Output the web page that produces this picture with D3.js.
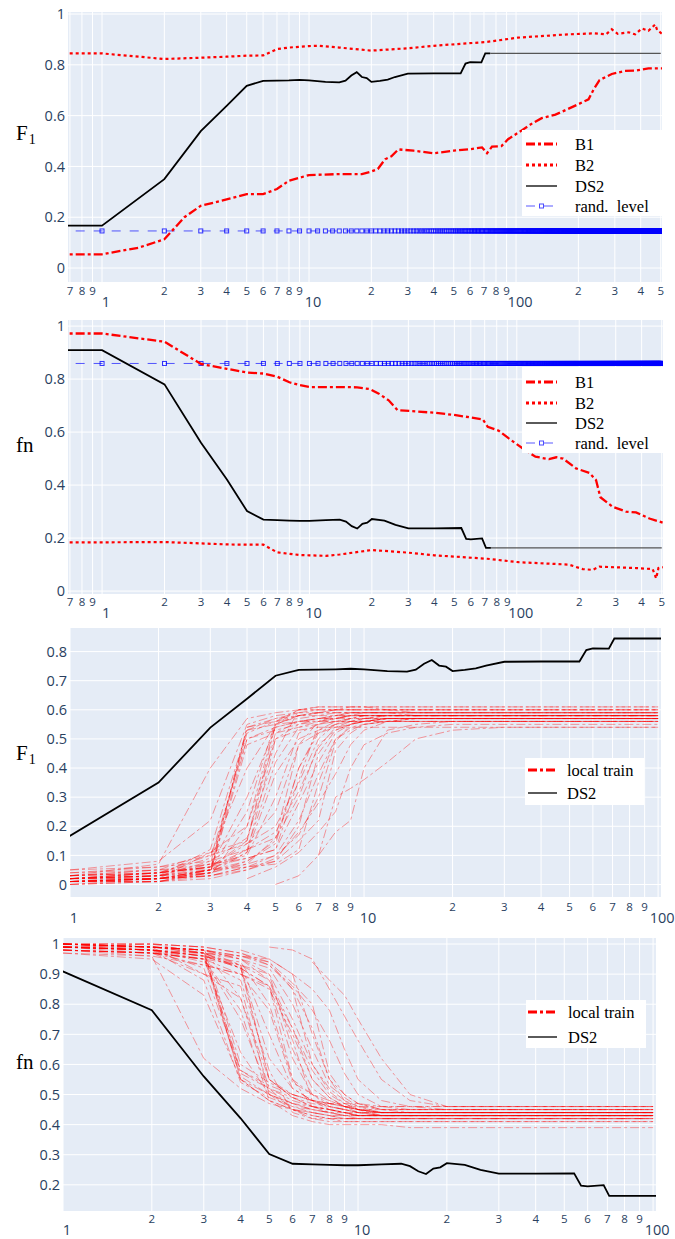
<!DOCTYPE html>
<html lang="en">
<head>
  <meta charset="UTF-8">
  <title>F1 / fn curves</title>
  <script src="https://d3js.org/d3.v7.min.js"></script>
  <style>
    * { margin: 0; padding: 0; box-sizing: border-box; }
    body { background: #fff; }
    svg { display: block; }
  </style>
</head>
<body>
  <svg id="chart" width="675" height="1239"></svg>
  <script>
    // ---- data (x = number of samples, log axis) ----
    const ds2F1 = [[0.5,0.167],[1,0.167],[2,0.35],[3,0.539],[4,0.638],[5,0.717],[6,0.737],[7,0.738],[8,0.739],[9,0.741],[10,0.739],[12,0.733],[14,0.731],[15,0.738],[16,0.758],[17,0.771],[18,0.752],[19,0.748],[20,0.733],[22,0.737],[24,0.742],[26,0.752],[30,0.765],[40,0.766],[54,0.766],[57,0.805],[60,0.811],[68,0.81],[71,0.845],[75,0.845],[500,0.845]]
    const ds2Fn = [[0.5,0.909],[1,0.909],[2,0.78],[3,0.56],[4,0.421],[5,0.302],[6,0.27],[7,0.268],[8,0.266],[9,0.265],[10,0.265],[12,0.268],[14,0.27],[15,0.262],[16,0.245],[17,0.236],[18,0.254],[19,0.258],[20,0.272],[23,0.266],[26,0.25],[30,0.237],[40,0.237],[54,0.238],[57,0.197],[60,0.195],[68,0.199],[71,0.163],[75,0.163],[500,0.163]]
    const b1F1 = [[0.5,0.054],[1,0.054],[1.5,0.08],[2,0.113],[2.5,0.2],[3,0.245],[4,0.27],[5,0.291],[6,0.291],[7,0.311],[8,0.344],[10,0.366],[14,0.37],[18,0.37],[20,0.38],[21.5,0.39],[23.3,0.428],[25,0.44],[27,0.467],[32,0.462],[40,0.452],[50,0.462],[60,0.468],[68.5,0.475],[72.4,0.452],[76.5,0.478],[85,0.48],[91.5,0.507],[107,0.543],[120,0.57],[133,0.59],[155,0.604],[178,0.626],[200,0.645],[224,0.664],[237,0.703],[253,0.74],[290,0.764],[336,0.776],[376,0.777],[436,0.786],[507,0.786]]
    const b2F1 = [[0.5,0.845],[1,0.845],[2,0.823],[3,0.828],[4,0.832],[5,0.836],[6,0.837],[7,0.862],[8,0.868],[10,0.874],[11,0.875],[14,0.868],[20,0.856],[30,0.865],[40,0.875],[72,0.89],[102,0.907],[178,0.92],[240,0.924],[272,0.92],[290,0.94],[310,0.922],[350,0.928],[376,0.92],[405,0.943],[436,0.934],[470,0.959],[480,0.938],[507,0.922]]
    const b1Fn = [[0.5,0.972],[1,0.972],[2,0.941],[3,0.857],[4,0.839],[5,0.825],[6,0.821],[7,0.809],[8,0.788],[9,0.777],[10,0.77],[14,0.77],[17,0.769],[19.6,0.762],[21.5,0.746],[24.1,0.72],[26.6,0.683],[40,0.673],[50.7,0.664],[68.5,0.648],[72.4,0.62],[81.9,0.605],[91.5,0.576],[107,0.538],[123,0.507],[143,0.498],[155,0.505],[167,0.5],[193,0.463],[224,0.446],[241,0.419],[253,0.354],[290,0.318],[336,0.3],[376,0.297],[436,0.274],[507,0.258]]
    const b2Fn = [[0.5,0.184],[1,0.184],[2,0.185],[3,0.18],[4,0.176],[5,0.175],[6,0.175],[7,0.146],[9,0.136],[10,0.135],[12,0.133],[14,0.138],[20,0.155],[30,0.145],[40,0.135],[72,0.122],[102,0.109],[178,0.1],[208,0.083],[232,0.08],[250,0.092],[376,0.087],[452,0.083],[470,0.048],[482,0.087],[507,0.09]]

    // random level: constant, sampled at every integer x
    const randLevelF1 = 0.146
    const randLevelFn = 0.859
    const randX = [0.5, ...d3.range(1, 501)]

    // local train clients, values at xsLocal (null = not yet present)
    const xsLocal = [1, 2, 3, 4, 5, 6, 7, 8, 9, 10, 12, 15, 20, 30, 100]
    const localF1 = [
      [0.02,0.03,0.05,0.54,0.56,0.57,0.58,0.58,0.58,0.59,0.59,0.59,0.59,0.59,0.59],
      [0.01,0.02,0.04,0.53,0.55,0.56,0.56,0.57,0.57,0.57,0.57,0.57,0.57,0.57,0.57],
      [0.03,0.07,0.40,0.57,0.59,0.60,0.60,0.60,0.61,0.61,0.60,0.60,0.60,0.60,0.60],
      [0.05,0.08,0.22,0.55,0.58,0.59,0.59,0.60,0.60,0.60,0.60,0.59,0.59,0.59,0.59],
      [0.02,0.04,0.06,0.15,0.52,0.56,0.57,0.58,0.59,0.59,0.59,0.59,0.59,0.59,0.59],
      [0.01,0.01,0.05,0.12,0.42,0.54,0.56,0.57,0.58,0.58,0.58,0.58,0.58,0.58,0.58],
      [0.02,0.03,0.07,0.10,0.30,0.52,0.55,0.56,0.57,0.57,0.57,0.57,0.57,0.57,0.57],
      [0.00,0.02,0.05,0.08,0.15,0.40,0.52,0.55,0.56,0.57,0.57,0.57,0.57,0.57,0.57],
      [0.03,0.04,0.10,0.14,0.20,0.35,0.50,0.55,0.57,0.58,0.58,0.58,0.58,0.58,0.58],
      [0.01,0.02,0.03,0.06,0.08,0.20,0.45,0.53,0.55,0.56,0.57,0.57,0.57,0.57,0.57],
      [0.04,0.05,0.05,0.06,0.07,0.12,0.35,0.50,0.54,0.55,0.56,0.56,0.56,0.56,0.56],
      [null,null,null,0.02,0.06,0.11,0.18,0.25,0.40,0.48,0.52,0.54,0.55,0.55,0.55],
      [null,null,null,null,0.00,0.03,0.10,0.18,0.22,0.40,0.53,0.55,0.56,0.56,0.56],
      [0.02,0.02,0.11,0.20,0.55,0.60,0.61,0.61,0.61,0.61,0.61,0.61,0.61,0.61,0.61],
      [0.01,0.03,0.12,0.53,0.57,0.58,0.59,0.59,0.59,0.59,0.59,0.58,0.58,0.58,0.58],
      [0.02,0.04,0.09,0.50,0.53,0.55,0.56,0.56,0.56,0.56,0.56,0.56,0.56,0.56,0.56],
      [0.01,0.01,0.04,0.50,0.54,0.56,0.57,0.57,0.58,0.58,0.58,0.58,0.58,0.58,0.58],
      [0.03,0.04,0.06,0.30,0.54,0.56,0.57,0.58,0.58,0.58,0.58,0.58,0.58,0.58,0.58],
      [0.00,0.01,0.03,0.20,0.50,0.55,0.57,0.57,0.58,0.58,0.58,0.58,0.58,0.58,0.58],
      [0.02,0.03,0.08,0.16,0.45,0.60,0.60,0.60,0.60,0.60,0.60,0.60,0.60,0.60,0.60],
      [0.01,0.02,0.05,0.11,0.38,0.50,0.53,0.55,0.56,0.56,0.57,0.57,0.57,0.57,0.57],
      [0.02,0.04,0.06,0.14,0.25,0.48,0.52,0.54,0.55,0.56,0.56,0.56,0.56,0.56,0.56],
      [0.01,0.02,0.04,0.07,0.16,0.30,0.48,0.53,0.55,0.56,0.57,0.57,0.57,0.57,0.57],
      [0.02,0.03,0.06,0.09,0.12,0.28,0.42,0.52,0.55,0.56,0.57,0.57,0.57,0.57,0.57],
      [0.01,0.02,0.03,0.06,0.10,0.22,0.38,0.50,0.53,0.55,0.56,0.56,0.56,0.56,0.56],
      [null,null,null,null,null,null,0.10,0.30,0.33,0.36,0.42,0.50,0.53,0.54,0.54],
      [0.03,0.05,0.11,0.15,0.55,0.58,0.59,0.59,0.59,0.59,0.59,0.59,0.59,0.59,0.59],
      [0.01,0.02,0.05,0.54,0.57,0.59,0.60,0.60,0.60,0.60,0.60,0.60,0.60,0.60,0.60],
      [0.00,0.01,0.04,0.48,0.52,0.54,0.55,0.56,0.56,0.56,0.57,0.57,0.57,0.57,0.57],
      [0.04,0.06,0.08,0.12,0.16,0.48,0.56,0.58,0.59,0.59,0.59,0.59,0.59,0.59,0.59],
      [0.02,0.03,0.05,0.07,0.10,0.17,0.30,0.49,0.55,0.57,0.58,0.58,0.58,0.58,0.58],
      [0.01,0.02,0.04,0.08,0.14,0.40,0.53,0.56,0.57,0.58,0.58,0.58,0.58,0.58,0.58],
      [0.02,0.02,0.03,0.05,0.08,0.15,0.22,0.46,0.52,0.55,0.56,0.57,0.57,0.57,0.57],
      [0.05,0.06,0.10,0.40,0.55,0.58,0.59,0.60,0.60,0.60,0.60,0.60,0.60,0.60,0.60],
      [0.01,0.02,0.05,0.25,0.56,0.60,0.61,0.61,0.61,0.61,0.61,0.61,0.61,0.61,0.61],
      [0.02,0.03,0.04,0.11,0.50,0.53,0.54,0.54,0.54,0.54,0.54,0.54,0.54,0.54,0.54],
      [0.03,0.04,0.06,0.12,0.18,0.32,0.47,0.54,0.56,0.57,0.58,0.58,0.58,0.58,0.58],
      [0.01,0.01,0.02,0.05,0.09,0.18,0.28,0.38,0.48,0.53,0.56,0.57,0.57,0.57,0.57],
      [0.02,0.04,0.07,0.52,0.56,0.58,0.58,0.59,0.59,0.59,0.59,0.59,0.59,0.59,0.59],
      [0.03,0.05,0.07,0.09,0.12,0.36,0.55,0.57,0.58,0.58,0.58,0.58,0.58,0.58,0.58]
    ]
    const localFn = [
      [0.99,0.98,0.97,0.55,0.50,0.47,0.45,0.44,0.43,0.43,0.43,0.43,0.43,0.43,0.43],
      [1.00,0.99,0.98,0.57,0.52,0.49,0.47,0.46,0.45,0.44,0.44,0.44,0.44,0.44,0.44],
      [0.98,0.96,0.62,0.52,0.47,0.45,0.44,0.43,0.42,0.42,0.42,0.42,0.42,0.42,0.42],
      [0.97,0.95,0.83,0.55,0.48,0.45,0.44,0.43,0.42,0.42,0.42,0.42,0.42,0.42,0.42],
      [0.99,0.98,0.96,0.92,0.55,0.49,0.46,0.45,0.44,0.43,0.43,0.43,0.43,0.43,0.43],
      [1.00,0.99,0.97,0.93,0.70,0.52,0.48,0.46,0.45,0.44,0.44,0.44,0.44,0.44,0.44],
      [0.99,0.98,0.96,0.94,0.80,0.55,0.50,0.48,0.46,0.45,0.44,0.44,0.44,0.44,0.44],
      [1.00,0.99,0.98,0.95,0.90,0.65,0.52,0.48,0.46,0.45,0.44,0.44,0.44,0.44,0.44],
      [0.98,0.97,0.93,0.90,0.85,0.70,0.55,0.49,0.46,0.44,0.43,0.43,0.43,0.43,0.43],
      [0.99,0.99,0.98,0.96,0.94,0.85,0.60,0.52,0.48,0.46,0.44,0.44,0.44,0.44,0.44],
      [0.98,0.97,0.97,0.96,0.95,0.90,0.70,0.55,0.50,0.47,0.45,0.45,0.45,0.45,0.45],
      [null,null,null,0.98,0.95,0.90,0.85,0.78,0.65,0.55,0.48,0.46,0.45,0.45,0.45],
      [null,null,null,null,0.99,0.98,0.95,0.85,0.76,0.68,0.55,0.48,0.46,0.46,0.46],
      [0.99,0.99,0.90,0.82,0.52,0.45,0.42,0.41,0.41,0.41,0.41,0.41,0.41,0.41,0.41],
      [1.00,0.98,0.88,0.54,0.49,0.46,0.45,0.44,0.44,0.43,0.43,0.43,0.43,0.43,0.43],
      [0.99,0.98,0.92,0.58,0.53,0.50,0.48,0.47,0.46,0.46,0.46,0.46,0.46,0.46,0.46],
      [1.00,1.00,0.97,0.58,0.52,0.48,0.46,0.45,0.44,0.43,0.43,0.43,0.43,0.43,0.43],
      [0.98,0.97,0.95,0.75,0.51,0.47,0.45,0.44,0.43,0.43,0.43,0.43,0.43,0.43,0.43],
      [1.00,0.99,0.98,0.82,0.55,0.49,0.46,0.45,0.44,0.43,0.43,0.43,0.43,0.43,0.43],
      [0.99,0.98,0.94,0.88,0.58,0.44,0.42,0.42,0.41,0.41,0.41,0.41,0.41,0.41,0.41],
      [1.00,0.99,0.97,0.92,0.62,0.52,0.48,0.46,0.45,0.44,0.43,0.43,0.43,0.43,0.43],
      [0.99,0.97,0.95,0.90,0.78,0.54,0.50,0.47,0.46,0.45,0.44,0.44,0.44,0.44,0.44],
      [1.00,0.99,0.97,0.95,0.88,0.72,0.55,0.49,0.46,0.45,0.44,0.44,0.44,0.44,0.44],
      [0.99,0.98,0.96,0.93,0.90,0.75,0.60,0.51,0.47,0.45,0.44,0.44,0.44,0.44,0.44],
      [1.00,0.99,0.98,0.95,0.92,0.80,0.65,0.53,0.49,0.46,0.45,0.45,0.45,0.45,0.45],
      [null,null,null,null,null,null,0.94,0.88,0.83,0.75,0.62,0.50,0.46,0.46,0.46],
      [0.98,0.97,0.90,0.86,0.50,0.45,0.43,0.42,0.42,0.42,0.42,0.42,0.42,0.42,0.42],
      [1.00,0.99,0.98,0.55,0.48,0.45,0.43,0.42,0.42,0.42,0.42,0.42,0.42,0.42,0.42],
      [0.99,1.00,0.99,0.60,0.54,0.50,0.48,0.47,0.46,0.45,0.45,0.45,0.45,0.45,0.45],
      [0.97,0.96,0.93,0.90,0.86,0.55,0.46,0.44,0.43,0.42,0.42,0.42,0.42,0.42,0.42],
      [1.00,0.99,0.98,0.96,0.93,0.85,0.72,0.55,0.48,0.45,0.43,0.43,0.43,0.43,0.43],
      [0.99,0.98,0.96,0.92,0.86,0.62,0.50,0.46,0.45,0.44,0.43,0.43,0.43,0.43,0.43],
      [1.00,1.00,0.99,0.97,0.94,0.87,0.80,0.57,0.50,0.47,0.45,0.44,0.44,0.44,0.44],
      [0.98,0.97,0.95,0.64,0.50,0.46,0.44,0.43,0.43,0.43,0.43,0.43,0.43,0.43,0.43],
      [0.99,0.98,0.95,0.78,0.48,0.43,0.41,0.40,0.40,0.40,0.40,0.39,0.39,0.39,0.39],
      [1.00,0.99,0.98,0.93,0.55,0.50,0.48,0.47,0.47,0.47,0.46,0.46,0.46,0.46,0.46],
      [0.99,0.98,0.97,0.92,0.86,0.72,0.58,0.50,0.47,0.45,0.44,0.44,0.44,0.44,0.44],
      [1.00,1.00,0.99,0.97,0.93,0.86,0.78,0.68,0.57,0.50,0.46,0.45,0.45,0.45,0.45],
      [0.99,0.98,0.96,0.56,0.50,0.47,0.46,0.45,0.44,0.44,0.44,0.44,0.44,0.44,0.44],
      [0.98,0.97,0.95,0.93,0.88,0.68,0.48,0.45,0.44,0.43,0.43,0.43,0.43,0.43,0.43]
    ]

    const tickFont = '"Open Sans", sans-serif'
    const texFont = '"Liberation Serif", "Times New Roman", serif'
    const tickColor = '#2a3f5f'

    const styles = {
      B1: { stroke: '#ff0000', width: 2.3, dash: '9,3,3,3', legendWidth: 3 },
      B2: { stroke: '#ff0000', width: 2.2, dash: '3,3', legendWidth: 3 },
      DS2: { stroke: '#000000', width: 1.8, dash: null, legendWidth: 1.3 },
      rand: { stroke: '#0000ff', width: 1, dash: '9,9', legendWidth: 1.2, opacity: 0.65 },
      local: { stroke: '#ff0000', width: 1, dash: '9,3,3,3', legendWidth: 3, opacity: 0.38, legendOpacity: 1 }
    }

    const panels = [
      { left: 68, right: 662, top: 12, bottom: 282, xDomain: [0.685, 507], yDomain: [-0.055, 1.008],
        yTicks: [0, 0.2, 0.4, 0.6, 0.8, 1], minorBase: 295, majorBase: 307, title: 'F', sub: '1', titleBase: 140,
        series: [['B1', b1F1], ['B2', b2F1], ['DS2', ds2F1]], rand: randLevelF1, tail: true,
        legend: { x0: 522, x1: 662, y0: 130, y1: 216, s0: 526, s1: 557, tx: 575, rows: [['B1', 144], ['B2', 165], ['DS2', 186], ['rand', 206]] } },
      { left: 68, right: 663, top: 320, bottom: 594, xDomain: [0.685, 507], yDomain: [-0.011, 1.023],
        yTicks: [0, 0.2, 0.4, 0.6, 0.8, 1], minorBase: 606, majorBase: 618, title: 'fn', titleBase: 452,
        series: [['B1', b1Fn], ['B2', b2Fn], ['DS2', ds2Fn]], rand: randLevelFn, tail: true,
        legend: { x0: 522, x1: 663, y0: 367, y1: 453, s0: 526, s1: 557, tx: 575, rows: [['B1', 382], ['B2', 403], ['DS2', 423], ['rand', 443]] } },
      { left: 70, right: 661, top: 628, bottom: 897, xDomain: [1, 102.3], yDomain: [-0.043, 0.881],
        yTicks: d3.range(0, 0.81, 0.1), minorBase: 911, majorBase: 923, title: 'F', sub: '1', titleBase: 760,
        local: localF1, series: [['DS2', ds2F1]],
        legend: { x0: 525, x1: 644, y0: 758, y1: 805, s0: 528, s1: 557, tx: 567, rows: [['local', 770], ['DS2', 793]] } },
      { left: 63, right: 656, top: 938, bottom: 1211, xDomain: [1, 102.3], yDomain: [0.113, 1.02],
        yTicks: d3.range(0.2, 1.01, 0.1), minorBase: 1223, majorBase: 1235, title: 'fn', titleBase: 1069,
        local: localFn, series: [['DS2', ds2Fn]],
        legend: { x0: 526, x1: 646, y0: 1000, y1: 1048, s0: 528, s1: 557, tx: 568, rows: [['local', 1012], ['DS2', 1037]] } }
    ]

    const labels = { B1: 'B1', B2: 'B2', DS2: 'DS2', rand: 'rand.\u00a0\u00a0level', local: 'local train' }

    const svg = d3.select('#chart')

    const styleLine = (sel, st, w, op) => sel
      .attr('fill', 'none')
      .attr('stroke', st.stroke)
      .attr('stroke-width', w || st.width)
      .attr('stroke-dasharray', st.dash)
      .attr('stroke-opacity', op || st.opacity || 1)

    panels.forEach((p, pi) => {
      const x = d3.scaleLog().domain(p.xDomain).range([p.left, p.right])
      const y = d3.scaleLinear().domain(p.yDomain).range([p.bottom, p.top])
      const g = svg.append('g')

      g.append('rect')
        .attr('x', p.left).attr('y', p.top)
        .attr('width', p.right - p.left).attr('height', p.bottom - p.top)
        .attr('fill', '#E5ECF6')

      const clipId = `clip-${pi}`
      g.append('clipPath').attr('id', clipId).append('rect')
        .attr('x', p.left).attr('y', p.top)
        .attr('width', p.right - p.left).attr('height', p.bottom - p.top)

      // grid
      const xt = x.ticks()
      g.append('g').selectAll('line').data(xt).join('line')
        .attr('x1', d => x(d)).attr('x2', d => x(d))
        .attr('y1', p.top).attr('y2', p.bottom)
        .attr('stroke', '#fff').attr('stroke-width', 1)
      g.append('g').selectAll('line').data(p.yTicks).join('line')
        .attr('x1', p.left).attr('x2', p.right)
        .attr('y1', d => y(d)).attr('y2', d => y(d))
        .attr('stroke', '#fff').attr('stroke-width', 1)

      // tick labels
      const isMajor = v => Math.abs(Math.log10(v) - Math.round(Math.log10(v))) < 1e-9
      g.append('g').selectAll('text').data(xt.filter(v => !isMajor(v))).join('text')
        .attr('x', d => x(d)).attr('y', p.minorBase)
        .attr('text-anchor', 'middle')
        .attr('font-family', tickFont).attr('font-size', 11.5).attr('fill', tickColor)
        .text(d => String(Math.round(d / Math.pow(10, Math.floor(Math.log10(d) + 1e-9)))))
      g.append('g').selectAll('text').data(xt.filter(isMajor)).join('text')
        .attr('x', d => x(d) + 4).attr('y', p.majorBase)
        .attr('text-anchor', 'middle')
        .attr('font-family', tickFont).attr('font-size', 14.5).attr('fill', tickColor)
        .text(d => d3.format('~g')(d))
      g.append('g').selectAll('text').data(p.yTicks).join('text')
        .attr('x', p.left - 3).attr('y', d => y(d))
        .attr('dy', '0.36em')
        .attr('text-anchor', 'end')
        .attr('font-family', tickFont).attr('font-size', 14.5).attr('fill', tickColor)
        .text(d => d3.format('~g')(+d.toFixed(2)))

      // y title
      const t = g.append('text')
        .attr('x', 16).attr('y', p.titleBase)
        .attr('font-family', texFont).attr('font-size', 21).attr('fill', '#000')
      t.append('tspan').text(p.title)
      if (p.sub) t.append('tspan').attr('font-size', 14).attr('dx', 1).attr('dy', 4).text(p.sub)

      const plot = g.append('g').attr('clip-path', `url(#${clipId})`)

      // local train clients
      if (p.local) {
        const lineL = d3.line()
          .defined(d => d[1] != null)
          .x(d => x(d[0])).y(d => y(d[1]))
        plot.append('g').selectAll('path').data(p.local).join('path')
          .attr('d', row => lineL(row.map((v, i) => [xsLocal[i], v])))
          .call(styleLine, styles.local)
      }

      const line = d3.line().x(d => x(d[0])).y(d => y(d[1]))

      // random level
      if (p.rand != null) {
        const pts = randX.map(v => [v, p.rand])
        plot.append('path').attr('d', line(pts)).call(styleLine, styles.rand)
        plot.append('g').selectAll('rect').data(randX.filter(v => v >= 1)).join('rect')
          .attr('x', d => x(d) - 2).attr('y', y(p.rand) - 2)
          .attr('width', 4).attr('height', 4)
          .attr('fill', 'none').attr('stroke', '#0000ff').attr('stroke-width', 1)
          .attr('stroke-opacity', 0.8)
      }

      p.series.forEach(([key, data]) => {
        if (key === 'DS2' && p.tail) {
          const n = data.length
          plot.append('path').attr('d', line(data.slice(0, n - 1))).call(styleLine, styles.DS2)
          plot.append('path').attr('d', line(data.slice(n - 2))).call(styleLine, { stroke: '#555', width: 1.2 })
        } else {
          plot.append('path').attr('d', line(data)).call(styleLine, styles[key])
        }
      })

      // legend
      const L = p.legend
      const lg = g.append('g')
      lg.append('rect')
        .attr('x', L.x0).attr('y', L.y0)
        .attr('width', L.x1 - L.x0).attr('height', L.y1 - L.y0)
        .attr('fill', '#fff')
      L.rows.forEach(([key, ry]) => {
        const st = styles[key]
        lg.append('line')
          .attr('x1', L.s0).attr('x2', L.s1).attr('y1', ry).attr('y2', ry)
          .call(styleLine, st, st.legendWidth, st.legendOpacity)
        if (key === 'rand') {
          lg.append('rect')
            .attr('x', (L.s0 + L.s1) / 2 - 2).attr('y', ry - 2)
            .attr('width', 4).attr('height', 4)
            .attr('fill', 'none').attr('stroke', '#0000ff').attr('stroke-opacity', 0.7)
        }
        lg.append('text')
          .attr('x', L.tx).attr('y', ry).attr('dy', '0.34em')
          .attr('font-family', texFont).attr('font-size', 16.5).attr('fill', '#000')
          .text(labels[key])
      })
    })
  </script>
</body>
</html>
